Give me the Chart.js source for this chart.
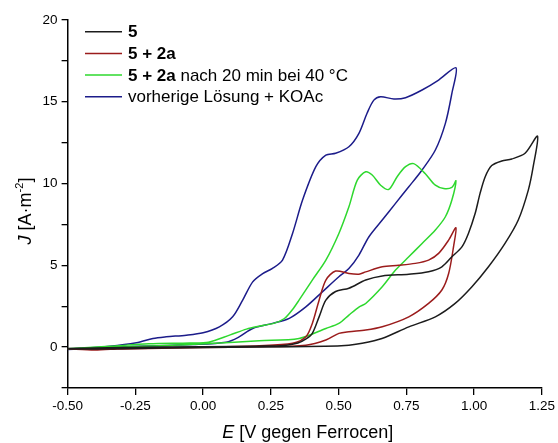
<!DOCTYPE html>
<html>
<head>
<meta charset="utf-8">
<title>Cyclovoltammogramme</title>
<script src="https://cdn.jsdelivr.net/npm/chart.js"></script>
<style>body{margin:0;background:#fff}</style>
</head>
<body>
<canvas id="cv" width="558" height="443"></canvas>
<script>
var FONT = '"Liberation Sans", Arial, sans-serif';

// 5  (hin: obere Kurve, rueck: untere Kurve)
var e5 = [-0.50, -0.30, 0.00, 0.20, 0.30, 0.35, 0.38, 0.403, 0.428, 0.453, 0.489, 0.538, 0.60, 0.661, 0.759, 0.832, 0.881, 0.918, 0.955, 0.979, 1.004, 1.022, 1.041, 1.065, 1.102, 1.139, 1.188, 1.234,
          1.218, 1.20, 1.163, 1.114, 1.053, 0.992, 0.93, 0.857, 0.759, 0.66, 0.587, 0.538, 0.45, 0.20, 0.00, -0.30, -0.50];
var j5 = [-0.08, -0.02, 0.02, 0.06, 0.10, 0.25, 0.50, 0.84, 1.85, 2.87, 3.40, 3.60, 4.10, 4.35, 4.46, 4.61, 4.91, 5.52, 6.13, 6.95, 8.18, 9.40, 10.42, 11.10, 11.38, 11.50, 11.85, 12.90,
          11.03, 9.60, 7.77, 6.34, 4.91, 3.69, 2.67, 1.85, 1.24, 0.53, 0.23, 0.12, 0.05, 0.00, -0.02, -0.10, -0.12];

// 5 + 2a
var e5a = [-0.50, -0.40, -0.30, 0.00, 0.207, 0.33, 0.379, 0.403, 0.428, 0.453, 0.489, 0.538, 0.575, 0.60, 0.661, 0.722, 0.783, 0.832, 0.869, 0.906, 0.933,
           0.924, 0.906, 0.881, 0.832, 0.759, 0.661, 0.60, 0.538, 0.501, 0.453, 0.379, 0.20, 0.00, -0.30, -0.50];
var j5a = [-0.10, -0.18, -0.10, 0.00, 0.08, 0.23, 0.63, 1.45, 2.87, 4.10, 4.65, 4.50, 4.46, 4.60, 4.91, 5.00, 5.12, 5.32, 5.73, 6.54, 7.30,
           6.13, 4.50, 3.49, 2.67, 1.85, 1.24, 1.04, 0.94, 0.84, 0.43, 0.12, 0.02, -0.02, -0.12, -0.10];

// 5 + 2a nach 20 min bei 40 °C
var e5b = [-0.50, -0.344, -0.20, -0.05, 0.02, 0.10, 0.16, 0.207, 0.26, 0.30, 0.33, 0.354, 0.403, 0.453, 0.501, 0.538, 0.569, 0.60, 0.624, 0.655, 0.685, 0.716, 0.747, 0.777, 0.82, 0.857, 0.888, 0.918, 0.933,
           0.918, 0.894, 0.857, 0.808, 0.759, 0.71, 0.661, 0.60, 0.575, 0.538, 0.501, 0.453, 0.354, 0.207, 0.023, -0.16, -0.50];
var j5b = [-0.10, 0.05, 0.20, 0.25, 0.30, 0.75, 1.10, 1.28, 1.45, 1.75, 2.30, 2.87, 4.10, 5.32, 6.95, 8.58, 10.21, 10.72, 10.52, 9.90, 9.64, 10.42, 11.03, 11.22, 10.60, 9.90, 9.70, 9.77, 10.17,
           8.99, 7.97, 7.16, 6.34, 5.52, 4.71, 3.69, 2.67, 2.45, 1.96, 1.45, 1.14, 0.53, 0.39, 0.22, 0.08, -0.10];

// vorherige Loesung + KOAc
var eKo = [-0.497, -0.344, -0.246, -0.185, -0.136, -0.062, 0.00, 0.06, 0.109, 0.146, 0.183, 0.22, 0.256, 0.293, 0.33, 0.367, 0.416, 0.453, 0.489, 0.538, 0.575, 0.605, 0.63, 0.655, 0.704, 0.747, 0.808, 0.869, 0.933,
           0.918, 0.894, 0.857, 0.808, 0.759, 0.71, 0.661, 0.612, 0.575, 0.538, 0.501, 0.44, 0.379, 0.318, 0.256, 0.183, 0.13, 0.085, -0.038, -0.283, -0.50];
var jKo = [-0.12, 0.06, 0.27, 0.53, 0.63, 0.73, 0.88, 1.24, 1.85, 2.87, 3.99, 4.50, 4.81, 5.32, 6.95, 8.99, 11.03, 11.74, 11.85, 12.25, 13.07, 14.30, 15.10, 15.31, 15.17, 15.25, 15.72, 16.33, 17.08,
           15.52, 13.68, 12.05, 10.83, 9.80, 8.79, 7.77, 6.75, 5.63, 4.80, 4.30, 3.38, 2.46, 1.76, 1.45, 1.14, 0.60, 0.30, 0.16, 0.02, -0.15];

var seriesColors = ['#1c1c1c', '#9b1c1c', '#2ed82e', '#1c1c8a'];

function pts(xs, ys) {
    return xs.map(function (x, i) { return { x: x, y: ys[i] }; });
}

function mkSet(xs, ys, color) {
    return {
        data: pts(xs, ys),
        showLine: true,
        borderColor: color,
        borderWidth: 1.5,
        pointRadius: 0,
        tension: 0.3,
        fill: false
    };
}

// Text aus Stuecken mit verschiedener Schrift zeichnen
function drawRuns(ctx, x, y, runs) {
    runs.forEach(function (r) {
        ctx.font = r.f;
        ctx.fillText(r.t, x, y);
        x += ctx.measureText(r.t).width;
    });
}
function runsWidth(ctx, runs) {
    var w = 0;
    runs.forEach(function (r) { ctx.font = r.f; w += ctx.measureText(r.t).width; });
    return w;
}

var extras = {
    id: 'extras',
    afterDraw: function (chart) {
        var ctx = chart.ctx;
        var area = chart.chartArea;
        var norm = '17px ' + FONT, bold = 'bold 17px ' + FONT;
        ctx.save();
        ctx.fillStyle = '#000';
        ctx.textBaseline = 'middle';
        ctx.textAlign = 'left';

        // Legende
        var rows = [
            [{ t: '5', f: bold }],
            [{ t: '5 + 2a', f: bold }],
            [{ t: '5 + 2a', f: bold }, { t: ' nach 20 min bei 40 °C', f: norm }],
            [{ t: 'vorherige Lösung + KOAc', f: norm }]
        ];
        rows.forEach(function (row, i) {
            var y = 31.7 + i * 21.7;
            ctx.strokeStyle = seriesColors[i];
            ctx.lineWidth = 1.5;
            ctx.beginPath();
            ctx.moveTo(85, y);
            ctx.lineTo(122, y);
            ctx.stroke();
            drawRuns(ctx, 128, y + 1, row);
        });

        // x-Achsentitel
        var tf = '18px ' + FONT, ti = 'italic 18px ' + FONT;
        var xt = [{ t: 'E', f: ti }, { t: ' [V gegen Ferrocen]', f: tf }];
        var w = runsWidth(ctx, xt);
        drawRuns(ctx, (area.left + area.right) / 2 - w / 2 + 3, 433, xt);

        // y-Achsentitel
        var sup = '11px ' + FONT;
        var yt = [{ t: 'J', f: ti }, { t: ' [A·m', f: tf }];
        ctx.translate(26, (area.top + area.bottom) / 2 + 7);
        ctx.rotate(-Math.PI / 2);
        var w1 = runsWidth(ctx, yt);
        ctx.font = sup;
        var w2 = ctx.measureText('-2').width;
        ctx.font = tf;
        var w3 = ctx.measureText(']').width;
        var x0 = -(w1 + w2 + w3) / 2;
        drawRuns(ctx, x0, 0, yt);
        ctx.font = sup;
        ctx.fillText('-2', x0 + w1, -6);
        ctx.font = tf;
        ctx.fillText(']', x0 + w1 + w2, 0);
        ctx.restore();
    }
};

new Chart(document.getElementById('cv').getContext('2d'), {
    type: 'scatter',
    data: {
        datasets: [
            mkSet(e5, j5, seriesColors[0]),
            mkSet(e5a, j5a, seriesColors[1]),
            mkSet(e5b, j5b, seriesColors[2]),
            mkSet(eKo, jKo, seriesColors[3])
        ]
    },
    options: {
        responsive: false,
        animation: false,
        layout: { padding: { left: 0, right: 14, top: 20, bottom: 0 } },
        plugins: { legend: { display: false }, tooltip: { enabled: false } },
        scales: {
            x: {
                type: 'linear',
                min: -0.5,
                max: 1.25,
                afterFit: function (s) { s.height = 55; },
                afterBuildTicks: function (s) {
                    s.ticks = [-0.5, -0.25, 0, 0.25, 0.5, 0.75, 1, 1.25].map(function (v) { return { value: v }; });
                },
                ticks: {
                    color: '#000',
                    font: { family: FONT, size: 13.5 },
                    padding: 3,
                    maxRotation: 0,
                    callback: function (v) { return Number(v).toFixed(2); }
                },
                grid: { drawOnChartArea: false, drawTicks: true, tickLength: 7, color: '#000', lineWidth: 1.3 },
                border: { display: true, color: '#000', width: 1.5 }
            },
            y: {
                type: 'linear',
                min: -2.5,
                max: 20,
                afterFit: function (s) { s.width = 67.6; },
                afterBuildTicks: function (s) {
                    var t = [];
                    for (var v = -2.5; v <= 20; v += 2.5) t.push({ value: v });
                    s.ticks = t;
                },
                ticks: {
                    color: '#000',
                    font: { family: FONT, size: 13.5 },
                    padding: 4,
                    callback: function (v) { return (v % 5 === 0) ? String(v) : ''; }
                },
                grid: { drawOnChartArea: false, drawTicks: true, tickLength: 6, color: '#000', lineWidth: 1.3 },
                border: { display: true, color: '#000', width: 1.5 }
            }
        }
    },
    plugins: [extras]
});
</script>
</body>
</html>
